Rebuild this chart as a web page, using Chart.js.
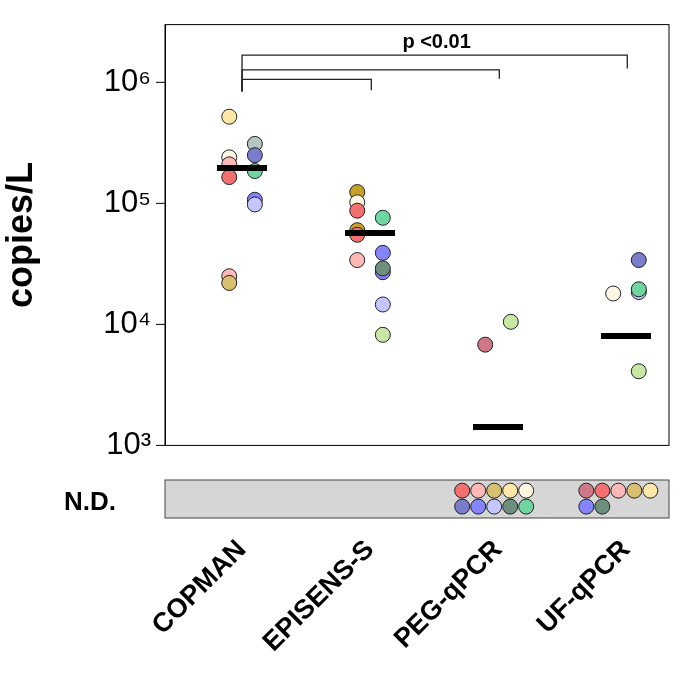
<!DOCTYPE html><html><head><script src="https://cdn.jsdelivr.net/npm/chart.js@4"></script>
<style>body{margin:0;background:#fff}#a{position:absolute;left:0;top:0}#b{position:absolute;left:0;top:470px}</style></head><body>
<div id="a" style="width:689px;height:470px"><canvas id="c1"></canvas></div>
<div id="b" style="width:689px;height:230px"><canvas id="c2"></canvas></div>
<script>
const categories=["COPMAN","EPISENS-S","PEG-qPCR","UF-qPCR"];
const yTickLabels=["10³","10⁴","10⁵","10⁶"];
const C={red:"#f47070",pink:"#ffb8b8",tan:"#d8c070",yellow:"#fde8a8",cream:"#fdf6e2",dblue:"#7a7ccc",blue:"#8484ff",lblue:"#c4c6ff",dgreen:"#6f8f7e",green:"#70d6a0",mauve:"#d07888",lgreen:"#c8e6a4",gold:"#c8a028",grey:"#b4c6be"};
// [category index, column offset, value, color]
const detected=[
[1,-0.1,5.2e5,"yellow"],[1,-0.1,2.4e5,"cream"],[1,-0.1,2.1e5,"pink"],[1,-0.1,1.65e5,"red"],[1,-0.1,2.5e4,"pink"],[1,-0.1,2.2e4,"tan"],
[1,0.1,3.1e5,"grey"],[1,0.1,2.5e5,"dblue"],[1,0.1,1.85e5,"green"],[1,0.1,1.07e5,"blue"],[1,0.1,9.8e4,"lblue"],
[2,-0.1,1.24e5,"gold"],[2,-0.1,1.02e5,"cream"],[2,-0.1,8.7e4,"red"],[2,-0.1,6.0e4,"gold"],[2,-0.1,5.5e4,"red"],[2,-0.1,3.4e4,"pink"],
[2,0.1,7.6e4,"green"],[2,0.1,3.9e4,"blue"],[2,0.1,2.7e4,"blue"],[2,0.1,2.9e4,"dgreen"],[2,0.1,1.46e4,"lblue"],[2,0.1,8.2e3,"lgreen"],
[3,-0.1,6.8e3,"mauve"],[3,0.1,1.05e4,"lgreen"],
[4,-0.1,1.8e4,"cream"],[4,0.1,3.4e4,"dblue"],[4,0.1,1.85e4,"lblue"],[4,0.1,1.95e4,"green"],[4,0.1,4.1e3,"lgreen"]];
const medians=[1.96e5,5.7e4,1.42e3,8.0e3];
const ndRows=[[2.72,["red","pink","tan","yellow","cream"],["dblue","blue","lblue","dgreen","green"]],
[3.69,["mauve","red","pink","tan","yellow"],["blue","dgreen"]]];
const brackets=[[1,4,1.68e6,1.3e6],[1,3,1.27e6,1.07e6],[1,2,1.06e6,8.6e5]];
const fixW=s=>{s.width=165};
const pts=detected.map(d=>({x:d[0]+d[1],y:d[2]}));
new Chart(document.getElementById('c1'),{type:'scatter',
data:{datasets:[
{data:medians.map((m,i)=>({x:i+1,y:m})),pointStyle:'line',radius:25,borderWidth:6,borderColor:'#000',hoverRadius:25},
{data:pts,backgroundColor:detected.map(d=>C[d[3]]),borderColor:'#222',borderWidth:1,radius:7.5}]},
options:{animation:false,responsive:true,maintainAspectRatio:false,layout:{autoPadding:false,padding:{top:14,right:20,bottom:3}},
plugins:{legend:{display:false},tooltip:{enabled:false}},
scales:{x:{type:'linear',min:0.398,max:4.336,display:false},
y:{type:'logarithmic',min:1000,max:3e6,afterFit:fixW,border:{color:'#000',width:1},grid:{display:false},
afterBuildTicks:s=>{s.ticks=[1e3,1e4,1e5,1e6].map(v=>({value:v}))},
ticks:{color:'#000',padding:6,font:{family:'Liberation Sans',size:31},callback:(v,i)=>yTickLabels[i]},
title:{display:true,text:'copies/L',color:'#000',font:{family:'Liberation Sans',size:36,weight:'bold'},padding:{top:0,bottom:18}}}}},
plugins:[{id:'deco',afterDraw(ch){const g=ch.ctx,a=ch.chartArea,x=ch.scales.x,y=ch.scales.y;
g.save();g.strokeStyle='#000';g.lineWidth=1;g.strokeRect(a.left,a.top,a.right-a.left,a.bottom-a.top);
for(const t of [1e3,1e4,1e5,1e6]){const py=y.getPixelForValue(t);g.beginPath();g.moveTo(a.left-9,py);g.lineTo(a.left,py);g.stroke();}
g.strokeStyle='#222';g.lineWidth=1.3;
brackets.forEach(b=>{const x1=x.getPixelForValue(b[0]),x2=x.getPixelForValue(b[1]+0.01),py=y.getPixelForValue(b[2]),pe=y.getPixelForValue(b[3]);
g.beginPath();g.moveTo(x1,y.getPixelForValue(8.4e5));g.lineTo(x1,py);g.lineTo(x2,py);g.lineTo(x2,pe);g.stroke();});
g.fillStyle='#000';g.font='bold 20px Liberation Sans';g.textAlign='center';g.textBaseline='bottom';
g.fillText('p <0.01',x.getPixelForValue(2.52),y.getPixelForValue(1.72e6)-1);g.restore();}}]});
const ndPts=[],ndCols=[];
ndRows.forEach(r=>{[r[1],r[2]].forEach((row,ri)=>row.forEach((c,k)=>{ndPts.push({x:r[0]+k*0.125,y:ri?0.3:0.72});ndCols.push(C[c]);}))});
new Chart(document.getElementById('c2'),{type:'scatter',
data:{datasets:[{data:ndPts,backgroundColor:ndCols,borderColor:'#222',borderWidth:1,radius:7.5}]},
options:{animation:false,responsive:true,maintainAspectRatio:false,layout:{autoPadding:false,padding:{top:10,right:20,bottom:0}},
plugins:{legend:{display:false},tooltip:{enabled:false}},
scales:{x:{type:'linear',min:0.398,max:4.336,afterFit:s=>{s.height=182},grid:{display:false},border:{display:false},
afterBuildTicks:s=>{s.ticks=[1,2,3,4].map(v=>({value:v}))},
ticks:{color:'#000',minRotation:45,maxRotation:45,padding:8,font:{family:'Liberation Sans',size:27,weight:'bold'},callback:(v,i)=>categories[i]}},
y:{min:0,max:1,afterFit:fixW,ticks:{display:false},grid:{display:false},border:{display:false}}}},
plugins:[{id:'bg',beforeDatasetsDraw(ch){const g=ch.ctx,a=ch.chartArea;g.save();g.fillStyle='#d6d6d6';g.fillRect(a.left,a.top,a.right-a.left,a.bottom-a.top);
g.strokeStyle='#444';g.lineWidth=1;g.strokeRect(a.left,a.top,a.right-a.left,a.bottom-a.top);
g.fillStyle='#000';g.font='bold 26px Liberation Sans';g.textAlign='center';g.textBaseline='middle';g.fillText('N.D.',90,(a.top+a.bottom)/2+4);g.restore();}}]});
</script></body></html>
